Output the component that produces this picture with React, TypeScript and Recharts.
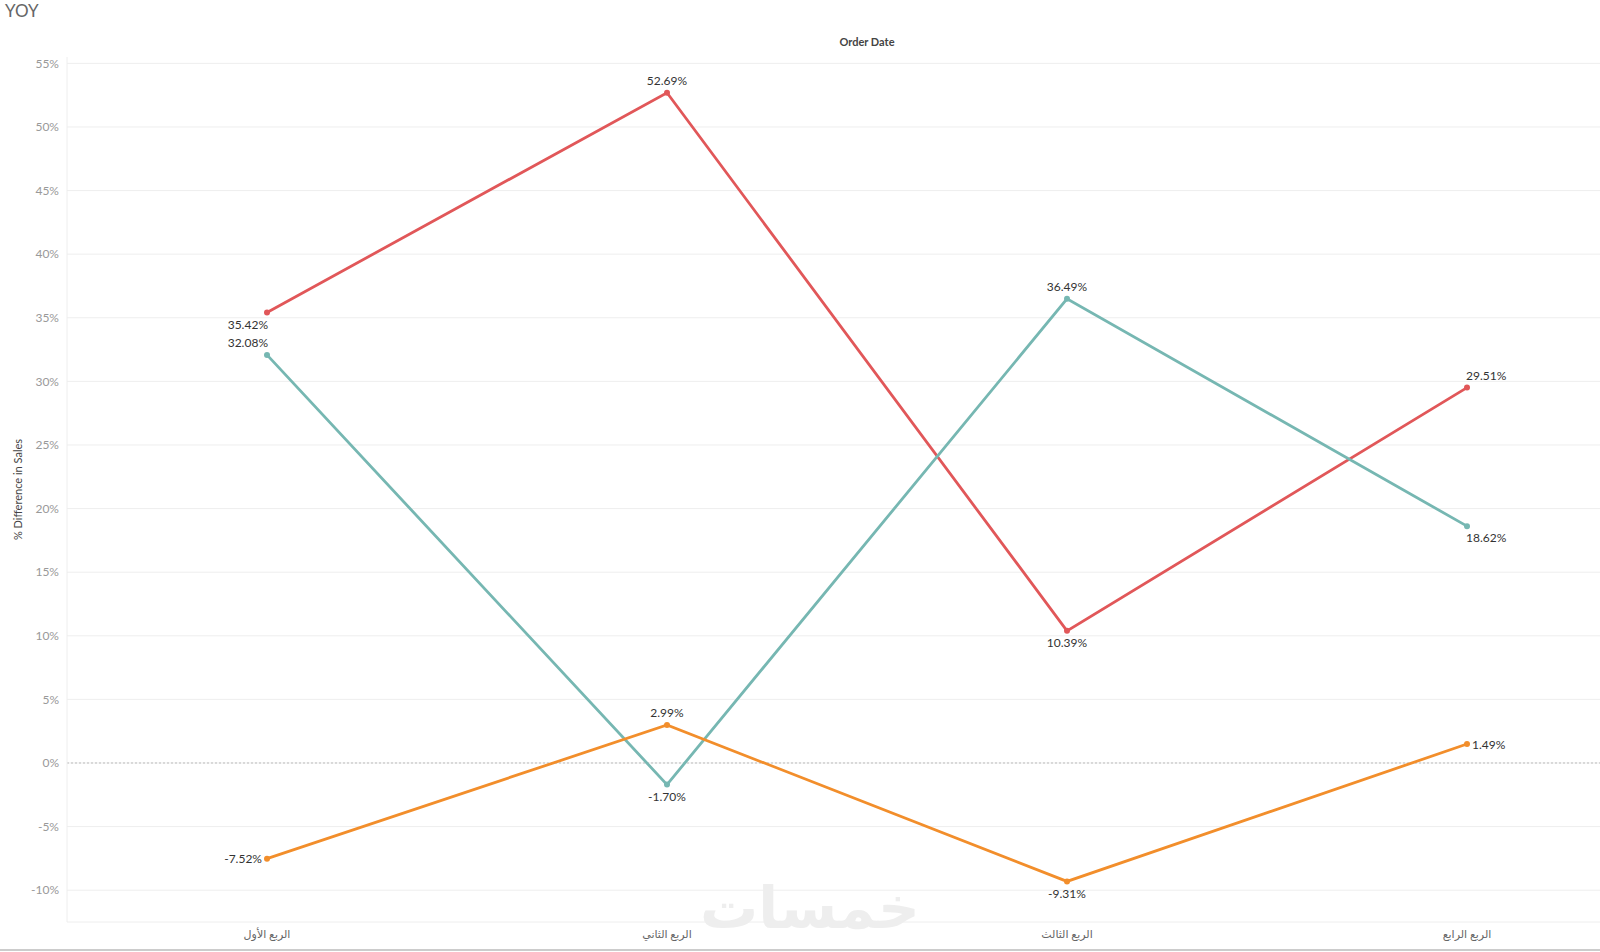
import React from "react";
import {
  LineChart,
  Line,
  XAxis,
  YAxis,
  CartesianGrid,
  ReferenceLine,
  LabelList,
} from "recharts";

const quarters = ["الربع الأول", "الربع الثاني", "الربع الثالث", "الربع الرابع"];
const redSeries = [35.42, 52.69, 10.39, 29.51];
const tealSeries = [32.08, -1.7, 36.49, 18.62];
const orangeSeries = [-7.52, 2.99, -9.31, 1.49];
const yTicks = [-10, -5, 0, 5, 10, 15, 20, 25, 30, 35, 40, 45, 50, 55];

// where each point label sits relative to its mark
const redPlace = ["belowLeft", "above", "below", "aboveRight"];
const tealPlace = ["aboveLeft", "below", "above", "belowRight"];
const orangePlace = ["left", "above", "below", "right"];

const data = quarters.map((q, i) => ({
  q,
  red: redSeries[i],
  teal: tealSeries[i],
  orange: orangeSeries[i],
}));

const FONT = "Lato, 'DejaVu Sans', sans-serif";

function makeLabel(places: string[]) {
  return (props: any) => {
    const { x, y, value, index } = props;
    const p = places[index];
    let dx = 0;
    let dy = 0;
    let anchor: "start" | "middle" | "end" = "middle";
    if (p === "above") dy = -12;
    if (p === "below") dy = 12;
    if (p === "belowLeft") { dy = 12; anchor = "end"; dx = 1; }
    if (p === "aboveLeft") { dy = -12; anchor = "end"; dx = 1; }
    if (p === "aboveRight") { dy = -12; anchor = "start"; dx = -1; }
    if (p === "belowRight") { dy = 11; anchor = "start"; dx = -1; }
    if (p === "left") { dx = -5; anchor = "end"; }
    if (p === "right") { dx = 5; anchor = "start"; }
    return (
      <text
        x={x + dx}
        y={y + dy}
        textAnchor={anchor}
        dominantBaseline="central"
        fontSize={12}
        fill="#333"
        fontFamily={FONT}
      >
        {Number(value).toFixed(2) + "%"}
      </text>
    );
  };
}

export default function App() {
  return (
    <div
      style={{
        position: "absolute",
        left: 0,
        top: 0,
        width: 1600,
        height: 952,
        overflow: "hidden",
        background: "#fff",
        fontFamily: FONT,
      }}
    >
      <div style={{ position: "absolute", left: 5, top: 0, fontSize: 17, color: "#666" }}>YOY</div>
      <div
        style={{
          position: "absolute",
          left: 767,
          width: 200,
          top: 35,
          textAlign: "center",
          fontSize: 11,
          fontWeight: 700,
          color: "#444",
        }}
      >
        Order Date
      </div>
      <div
        style={{
          position: "absolute",
          left: 700,
          width: 200,
          top: 878,
          textAlign: "center",
          fontSize: 58,
          fontWeight: 700,
          color: "#eeeeee",
          fontFamily: "'DejaVu Sans', sans-serif",
          lineHeight: "60px",
        }}
      >
        خمسات
      </div>
      <LineChart
        width={1667}
        height={952}
        data={data}
        margin={{ top: 57, right: 0, bottom: 0, left: 0 }}
      >
        <CartesianGrid
          horizontal
          vertical={false}
          stroke="#eeeeee"
          horizontalValues={yTicks}
          syncWithTicks
        />
        <XAxis
          dataKey="q"
          height={30}
          padding={{ left: 200, right: 200 }}
          tickSize={0}
          tickMargin={8}
          axisLine={{ stroke: "#eeeeee" }}
          tick={{ fontSize: 11, fill: "#666", fontFamily: FONT }}
          interval={0}
        />
        <YAxis
          width={67}
          domain={[-12.5, 55.5]}
          ticks={yTicks}
          tickFormatter={(v) => v + "%"}
          tickSize={0}
          tickMargin={8}
          axisLine={{ stroke: "#eeeeee" }}
          tick={{ fontSize: 12, fill: "#999", fontFamily: FONT }}
          allowDataOverflow
          label={{
            value: "% Difference in Sales",
            angle: -90,
            position: "insideLeft",
            offset: 18,
            style: { fontSize: 11, fill: "#444", fontFamily: FONT, textAnchor: "middle" },
          }}
        />
        <ReferenceLine y={0} stroke="#bbbbbb" strokeDasharray="2 2" />
        <Line
          dataKey="red"
          stroke="#E15759"
          strokeWidth={2.8}
          dot={{ r: 3, fill: "#E15759", stroke: "#E15759", strokeWidth: 0 }}
          activeDot={false}
          isAnimationActive={false}
        >
          <LabelList dataKey="red" content={makeLabel(redPlace)} />
        </Line>
        <Line
          dataKey="teal"
          stroke="#76B7B2"
          strokeWidth={2.8}
          dot={{ r: 3, fill: "#76B7B2", stroke: "#76B7B2", strokeWidth: 0 }}
          activeDot={false}
          isAnimationActive={false}
        >
          <LabelList dataKey="teal" content={makeLabel(tealPlace)} />
        </Line>
        <Line
          dataKey="orange"
          stroke="#F28E2B"
          strokeWidth={2.8}
          dot={{ r: 3, fill: "#F28E2B", stroke: "#F28E2B", strokeWidth: 0 }}
          activeDot={false}
          isAnimationActive={false}
        >
          <LabelList dataKey="orange" content={makeLabel(orangePlace)} />
        </Line>
      </LineChart>
      <div
        style={{
          position: "absolute",
          left: 0,
          top: 949,
          width: 1600,
          height: 2,
          background: "#cccccc",
        }}
      />
    </div>
  );
}
